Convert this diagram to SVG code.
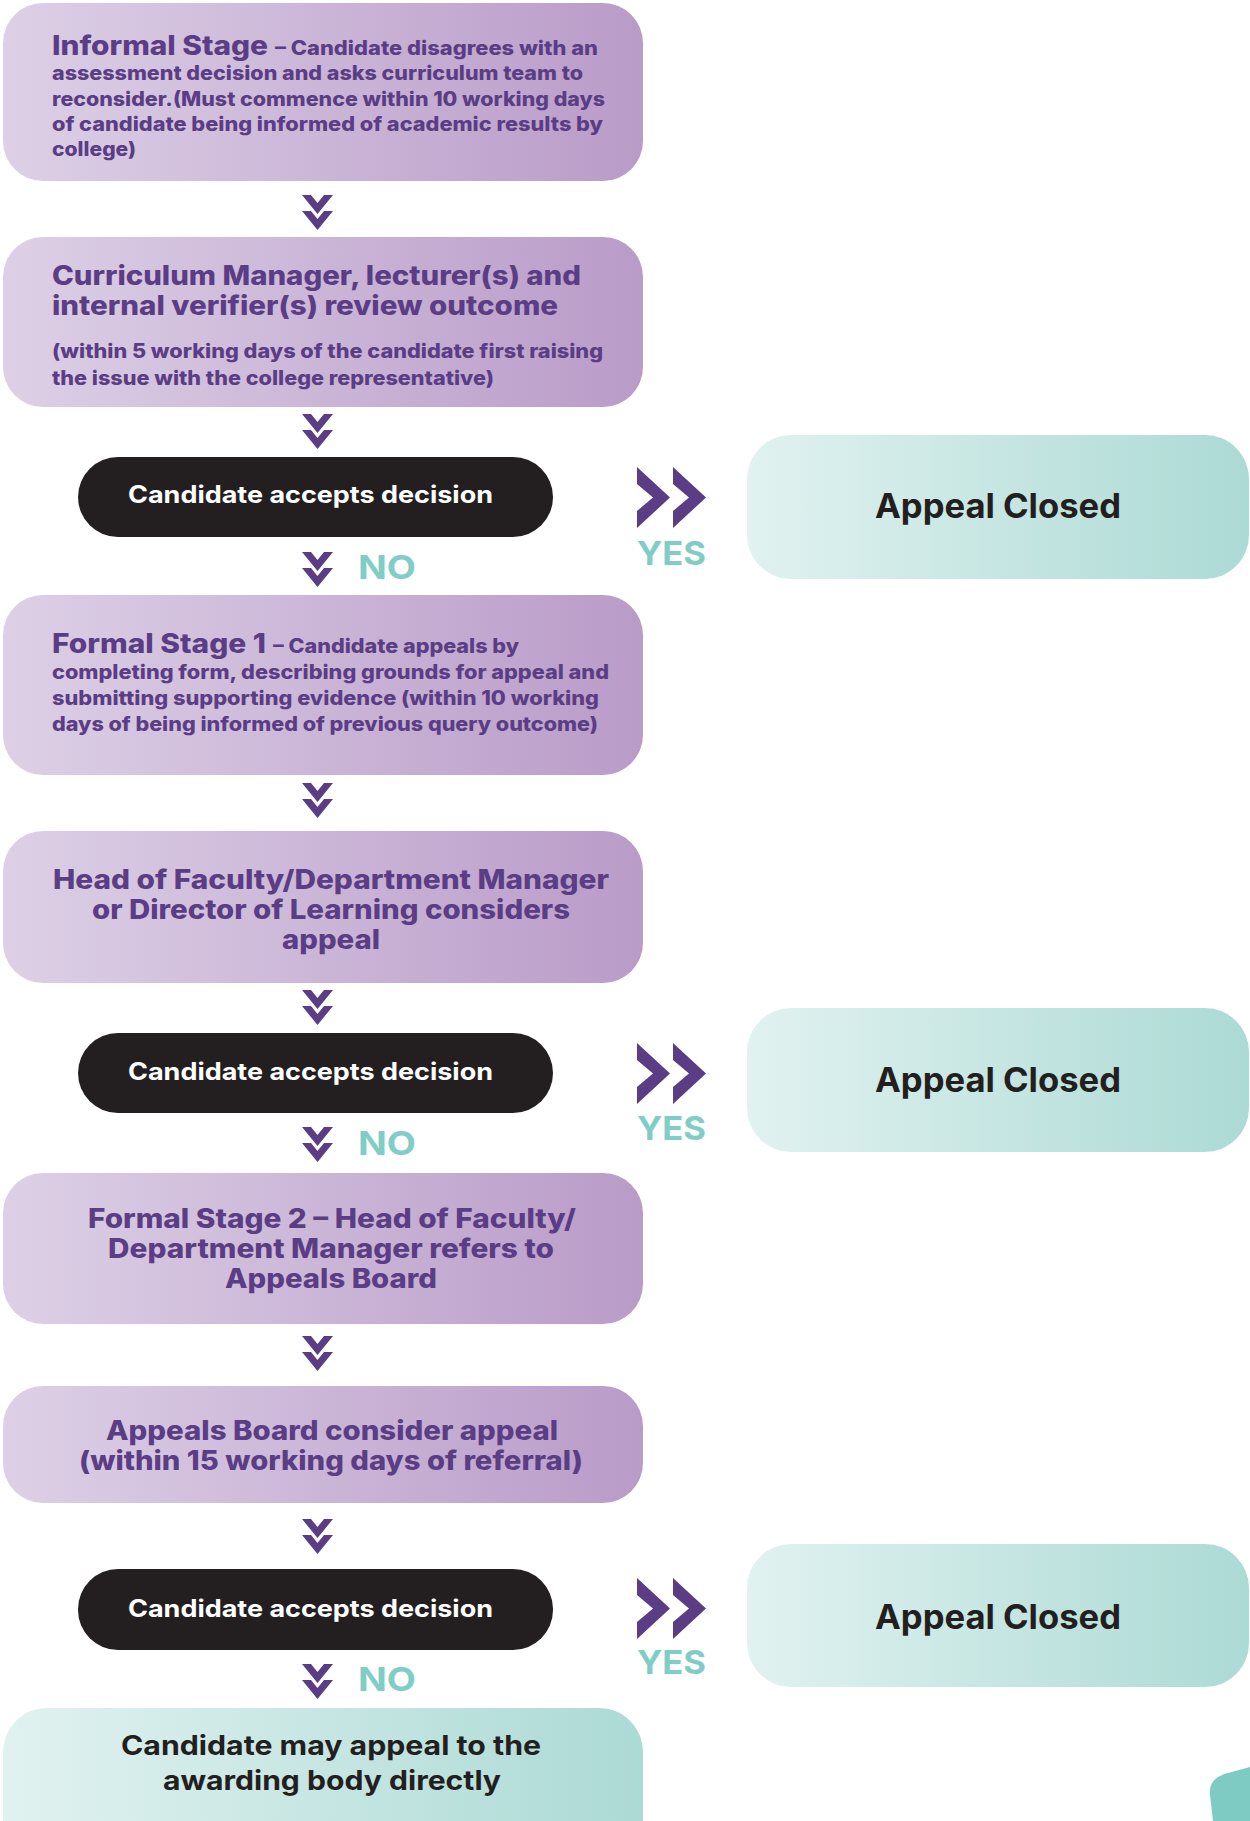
<svg xmlns="http://www.w3.org/2000/svg" xmlns:xlink="http://www.w3.org/1999/xlink" width="1250" height="1821" viewBox="0 0 1250 1821">
<defs>
<linearGradient id="gp" x1="0" y1="0" x2="1" y2="0">
<stop offset="0" stop-color="#ddd0e6"/>
<stop offset="1" stop-color="#b99bc8"/>
</linearGradient>
<linearGradient id="gt" x1="0" y1="0" x2="1" y2="0">
<stop offset="0" stop-color="#e1f2f0"/>
<stop offset="1" stop-color="#acdad5"/>
</linearGradient>
<g id="chevd">
<polygon points="0,0 9,0 15.5,8 22,0 31,0 15.5,19"/>
<polygon points="0,16 9,16 15.5,24 22,16 31,16 15.5,35"/>
</g>
<g id="chevr">
<polygon points="0,0 33,30.5 0,61 0,44 16,30.5 0,17"/>
<polygon points="36,0 69,30.5 36,61 36,44 52,30.5 36,17"/>
</g>
<style>
.pbox{fill:url(#gp)}
.tbox{fill:url(#gt)}
.pill{fill:#231f20}
.pt{font-family:Inter,"Noto Sans","Liberation Sans",sans-serif;font-weight:800;fill:#5a3d85}
.big{font-size:26.5px}
.sm{font-size:19.5px}
.wt{font-family:Inter,"Noto Sans","Liberation Sans",sans-serif;font-weight:700;fill:#ffffff;font-size:24px}
.dk{font-family:Inter,"Noto Sans","Liberation Sans",sans-serif;font-weight:700;fill:#231f20}
.yn{font-family:Inter,"Noto Sans","Liberation Sans",sans-serif;font-weight:700;fill:#7fcdc5;font-size:33px}
.chev{fill:#5a3d85}
.c{text-anchor:middle}
</style>
</defs>

<g id="connectors" class="chev">
<use xlink:href="#chevd" x="302" y="195"/>
<use xlink:href="#chevd" x="302" y="414"/>
<use xlink:href="#chevd" x="302" y="552"/>
<use xlink:href="#chevd" x="302" y="783"/>
<use xlink:href="#chevd" x="302" y="990"/>
<use xlink:href="#chevd" x="302" y="1127"/>
<use xlink:href="#chevd" x="302" y="1336"/>
<use xlink:href="#chevd" x="302" y="1519"/>
<use xlink:href="#chevd" x="302" y="1664"/>
<use xlink:href="#chevr" x="637" y="467"/>
<use xlink:href="#chevr" x="637" y="1043"/>
<use xlink:href="#chevr" x="637" y="1578"/>
</g>

<g id="labels">
<text class="yn" x="358" y="579" textLength="58" lengthAdjust="spacingAndGlyphs">NO</text>
<text class="yn" x="637" y="565" textLength="69" lengthAdjust="spacingAndGlyphs">YES</text>
<text class="yn" x="358" y="1155" textLength="58" lengthAdjust="spacingAndGlyphs">NO</text>
<text class="yn" x="637" y="1140" textLength="69" lengthAdjust="spacingAndGlyphs">YES</text>
<text class="yn" x="358" y="1691" textLength="58" lengthAdjust="spacingAndGlyphs">NO</text>
<text class="yn" x="637" y="1674" textLength="69" lengthAdjust="spacingAndGlyphs">YES</text>
</g>

<g id="informal">
<rect class="pbox" x="3" y="3" width="640" height="178" rx="40"/>
<text class="pt big" x="52" y="55" textLength="216" lengthAdjust="spacingAndGlyphs">Informal Stage</text>
<text class="pt sm" x="275" y="55" textLength="323" lengthAdjust="spacingAndGlyphs">– Candidate disagrees with an</text>
<text class="pt sm" x="52" y="80" textLength="531" lengthAdjust="spacingAndGlyphs">assessment decision and asks curriculum team to</text>
<text class="pt sm" x="52" y="106" textLength="553" lengthAdjust="spacingAndGlyphs">reconsider.(Must commence within 10 working days</text>
<text class="pt sm" x="52" y="131" textLength="551" lengthAdjust="spacingAndGlyphs">of candidate being informed of academic results by</text>
<text class="pt sm" x="52" y="156" textLength="84" lengthAdjust="spacingAndGlyphs">college)</text>
</g>

<g id="review">
<rect class="pbox" x="3" y="237" width="640" height="170" rx="40"/>
<text class="pt big" x="52" y="285" textLength="529" lengthAdjust="spacingAndGlyphs">Curriculum Manager, lecturer(s) and</text>
<text class="pt big" x="52" y="315" textLength="506" lengthAdjust="spacingAndGlyphs">internal verifier(s) review outcome</text>
<text class="pt sm" x="52" y="358" textLength="551" lengthAdjust="spacingAndGlyphs">(within 5 working days of the candidate first raising</text>
<text class="pt sm" x="52" y="385" textLength="442" lengthAdjust="spacingAndGlyphs">the issue with the college representative)</text>
</g>

<g id="accept1">
<rect class="pill" x="78" y="457" width="475" height="80" rx="40"/>
<text class="wt c" x="310.5" y="503" textLength="365" lengthAdjust="spacingAndGlyphs">Candidate accepts decision</text>
</g>

<g id="closed1">
<rect class="tbox" x="747" y="435" width="502" height="144" rx="44"/>
<text class="dk c" x="998" y="518" font-size="34" textLength="246" lengthAdjust="spacingAndGlyphs">Appeal Closed</text>
</g>

<g id="formal1">
<rect class="pbox" x="3" y="595" width="640" height="180" rx="40"/>
<text class="pt big" x="52" y="653" textLength="214" lengthAdjust="spacingAndGlyphs">Formal Stage 1</text>
<text class="pt sm" x="273" y="653" textLength="246" lengthAdjust="spacingAndGlyphs">– Candidate appeals by</text>
<text class="pt sm" x="52" y="679" textLength="557" lengthAdjust="spacingAndGlyphs">completing form, describing grounds for appeal and</text>
<text class="pt sm" x="52" y="705" textLength="547" lengthAdjust="spacingAndGlyphs">submitting supporting evidence (within 10 working</text>
<text class="pt sm" x="52" y="731" textLength="546" lengthAdjust="spacingAndGlyphs">days of being informed of previous query outcome)</text>
</g>

<g id="head">
<rect class="pbox" x="3" y="831" width="640" height="152" rx="40"/>
<text class="pt big c" x="331" y="889" textLength="556" lengthAdjust="spacingAndGlyphs">Head of Faculty/Department Manager</text>
<text class="pt big c" x="331" y="919" textLength="478" lengthAdjust="spacingAndGlyphs">or Director of Learning considers</text>
<text class="pt big c" x="331" y="949" textLength="98" lengthAdjust="spacingAndGlyphs">appeal</text>
</g>

<g id="accept2">
<rect class="pill" x="78" y="1033" width="475" height="80" rx="40"/>
<text class="wt c" x="310.5" y="1080" textLength="365" lengthAdjust="spacingAndGlyphs">Candidate accepts decision</text>
</g>

<g id="closed2">
<rect class="tbox" x="747" y="1008" width="502" height="144" rx="44"/>
<text class="dk c" x="998" y="1092" font-size="34" textLength="246" lengthAdjust="spacingAndGlyphs">Appeal Closed</text>
</g>

<g id="formal2">
<rect class="pbox" x="3" y="1173" width="640" height="151" rx="40"/>
<text class="pt big c" x="332" y="1228" textLength="488" lengthAdjust="spacingAndGlyphs">Formal Stage 2 – Head of Faculty/</text>
<text class="pt big c" x="331" y="1258" textLength="446" lengthAdjust="spacingAndGlyphs">Department Manager refers to</text>
<text class="pt big c" x="331" y="1288" textLength="212" lengthAdjust="spacingAndGlyphs">Appeals Board</text>
</g>

<g id="board">
<rect class="pbox" x="3" y="1386" width="640" height="117" rx="40"/>
<text class="pt big c" x="332" y="1440" textLength="452" lengthAdjust="spacingAndGlyphs">Appeals Board consider appeal</text>
<text class="pt big c" x="331" y="1470" textLength="504" lengthAdjust="spacingAndGlyphs">(within 15 working days of referral)</text>
</g>

<g id="accept3">
<rect class="pill" x="78" y="1569" width="475" height="81" rx="40"/>
<text class="wt c" x="310.5" y="1617" textLength="365" lengthAdjust="spacingAndGlyphs">Candidate accepts decision</text>
</g>

<g id="closed3">
<rect class="tbox" x="747" y="1544" width="502" height="143" rx="44"/>
<text class="dk c" x="998" y="1629" font-size="34" textLength="246" lengthAdjust="spacingAndGlyphs">Appeal Closed</text>
</g>

<g id="awarding">
<rect class="tbox" x="3" y="1708" width="640" height="160" rx="44"/>
<text class="dk c" x="331" y="1755" font-size="27" textLength="420" lengthAdjust="spacingAndGlyphs">Candidate may appeal to the</text>
<text class="dk c" x="332" y="1790" font-size="27" textLength="338" lengthAdjust="spacingAndGlyphs">awarding body directly</text>
</g>

<path id="corner" d="M1213,1821 L1210,1795 Q1208,1778 1228,1773 L1250,1767 L1250,1821 Z" fill="#7ecbc3"/>
</svg>
